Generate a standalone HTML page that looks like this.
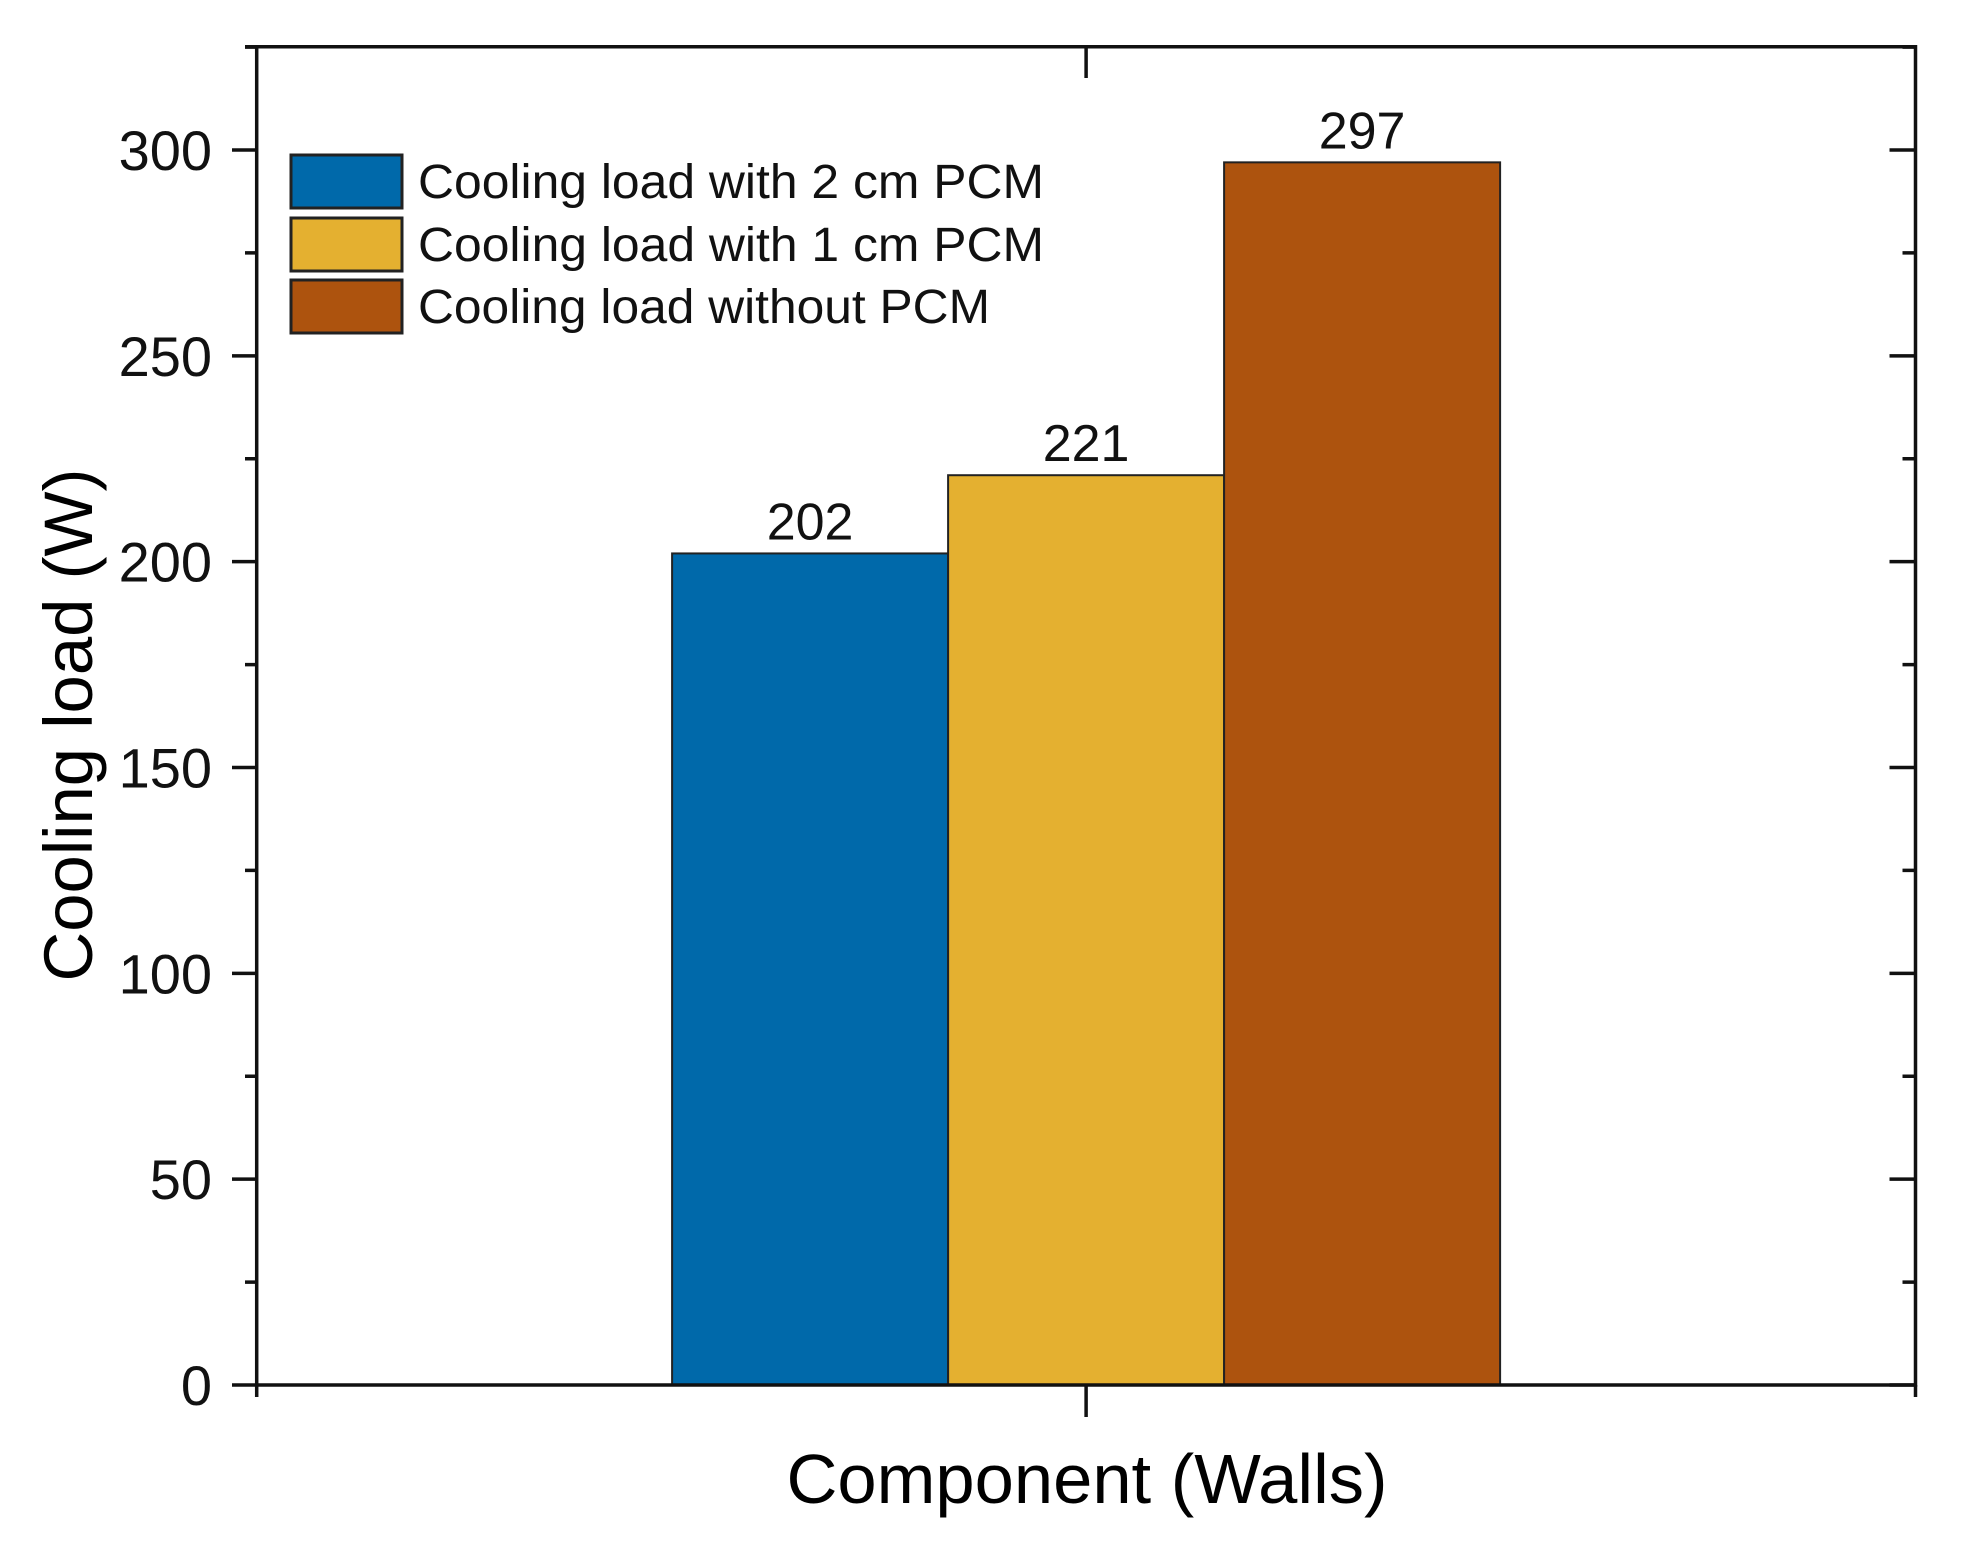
<!DOCTYPE html>
<html><head><meta charset="utf-8"><style>
html,body{margin:0;padding:0;background:#fff;}
svg{display:block;font-family:"Liberation Sans",Arial,sans-serif;}
</style></head><body>
<svg id="chart" width="1964" height="1557" viewBox="0 0 1964 1557" xmlns="http://www.w3.org/2000/svg">
<rect x="0" y="0" width="1964" height="1557" fill="#fff"/>
<g id="bars"></g>
<g id="axes"></g>
<g id="legend"></g>
<text x="0" y="0" font-size="69" text-anchor="middle" transform="translate(92,725) rotate(-90)" textLength="513" lengthAdjust="spacingAndGlyphs">Cooling load (W)</text>
<text x="1087" y="1503" font-size="70" text-anchor="middle" textLength="601" lengthAdjust="spacingAndGlyphs">Component (Walls)</text>
</svg>
<script>
const categories = ["Walls"];
const seriesNames = ["Cooling load with 2 cm PCM", "Cooling load with 1 cm PCM", "Cooling load without PCM"];
const seriesValues = [202, 221, 297];
const valueLabels = ["202", "221", "297"];
const yTicks = [0, 50, 100, 150, 200, 250, 300];
const yMinorTicks = [25, 75, 125, 175, 225, 275, 325];
const colors = ["#0069aa", "#e4b030", "#ad530e"];

const NS = "http://www.w3.org/2000/svg";
const L = 256.7, R = 1915.5, T = 46.7, B = 1385;
const y0 = 1385, pxPerUnit = (1385 - 150) / 300;
function yScale(v){ return y0 - v * pxPerUnit; }
const groupCenter = (L + R) / 2, barW = 276;
function xBar(i){ return groupCenter - barW * seriesValues.length / 2 + i * barW; }
function mk(tag, attrs, parent){
  const e = document.createElementNS(NS, tag);
  for (const k in attrs) e.setAttribute(k, attrs[k]);
  parent.appendChild(e);
  return e;
}
const gb = document.getElementById('bars');
seriesValues.forEach((v, i) => {
  const r = mk('rect', {x: xBar(i), y: yScale(v), width: barW, height: yScale(0) - yScale(v), fill: colors[i], stroke: '#222', 'stroke-width': 2}, gb);
  
  
  const t = mk('text', {x: xBar(i) + barW / 2, y: yScale(v) - 14, 'font-size': 52, 'text-anchor': 'middle', fill: '#111'}, gb);
  t.textContent = valueLabels[i];
  
  
});
const ga = document.getElementById('axes');
const frame = mk('path', {d: `M${L},${T} H${R} V${B} H${L} Z`, fill: 'none', stroke: '#111', 'stroke-width': 3.5}, ga);


yTicks.forEach(v => {
  const y = yScale(v);
  const tk = mk('path', {d: `M232,${y} H${L} M${R - 26},${y} H${R}`, stroke: '#111', 'stroke-width': 3.5}, ga);
  
  
  const lb = mk('text', {x: 212, y: y + 20, 'font-size': 56, 'text-anchor': 'end', fill: '#111'}, ga);
  lb.textContent = v;
  
  
});
yMinorTicks.forEach(v => {
  const y = yScale(v);
  if (y < T) return;
  const tk = mk('path', {d: `M245,${y} H${L} M${R - 13},${y} H${R}`, stroke: '#111', 'stroke-width': 3.5}, ga);
  
  
});
const xt = mk('path', {d: `M${groupCenter},${B} V1417 M${groupCenter},${T} V78 M${L},${B} V1397 M${R},${B} V1397 M245,${T} H${L}`, stroke: '#111', 'stroke-width': 3.5}, ga);



const gl = document.getElementById('legend');
const boxTops = [155, 218, 280];
const textLens = [626, 626, 572];
seriesNames.forEach((n, i) => {
  const r = mk('rect', {x: 291, y: boxTops[i], width: 111, height: 53, fill: colors[i], stroke: '#222', 'stroke-width': 3}, gl);
  
  
  const t = mk('text', {x: 418, y: boxTops[i] + 43, 'font-size': 48, fill: '#111', textLength: textLens[i], lengthAdjust: 'spacingAndGlyphs'}, gl);
  t.textContent = n;
  
  
});
</script>
</body></html>
